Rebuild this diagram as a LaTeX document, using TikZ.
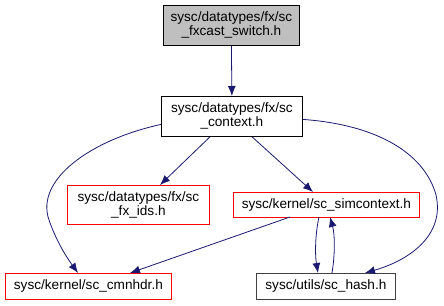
\documentclass[tikz,border=0pt]{standalone}
\usepackage{fontspec}
\setmainfont{Liberation Sans}
\usetikzlibrary{arrows.meta}
\definecolor{edgec}{HTML}{191970}
\definecolor{topfill}{HTML}{BFBFBF}
\definecolor{hashc}{HTML}{404040}
\tikzset{
  x=1pt,y=-1pt,
  box/.style={draw,line width=0.8pt,align=center,font=\fontsize{13.6}{14}\selectfont,inner sep=0pt,anchor=north west},
  redbox/.style={box,draw=red},
  edge/.style={draw=edgec,line width=0.8pt,-{Latex[length=10pt,width=8pt]}}
}
\begin{document}
\begin{tikzpicture}
\useasboundingbox (0,0) rectangle (444,305);
\node[box,fill=topfill,minimum width=136pt,minimum height=40pt,text width=136pt] (top) at (163,5) {sysc/datatypes/fx/sc\\\_fxcast\_switch.h};
\node[box,minimum width=141pt,minimum height=40pt,text width=141pt] (ctx) at (161,96) {sysc/datatypes/fx/sc\\\_context.h};
\node[redbox,minimum width=142pt,minimum height=39pt,text width=142pt] (ids) at (67,185) {sysc/datatypes/fx/sc\\\_fx\_ids.h};
\node[redbox,minimum width=186pt,minimum height=25pt,text width=186pt] (sim) at (233,192) {sysc/kernel/sc\_simcontext.h};
\node[redbox,minimum width=166pt,minimum height=26pt,text width=166pt] (cmn) at (5,273) {sysc/kernel/sc\_cmnhdr.h};
\node[box,draw=hashc,minimum width=139pt,minimum height=26pt,text width=139pt] (hash) at (256,273) {sysc/utils/sc\_hash.h};
\draw[edge] (top.south) -- (ctx.north);
\draw[edge] (ctx.south west) ++(49,0) coordinate (c1) -- (160,185);
\draw[edge] (ctx.south west) ++(91,0) coordinate (c2) -- (313,192);
\draw[edge] (ctx.west) ++(0,8) coordinate (c3) .. controls (90,140) and (35,180) .. (49,220) .. controls (56,240) and (65,255) .. (78,273);
\draw[edge] (ctx.east) ++(0,3) coordinate (c4) .. controls (380,125) and (425,155) .. (436,195) .. controls (445,235) and (410,260) .. (365,273);
\draw[edge] (290,217) -- (130,273);
\draw[edge] (319,217) .. controls (315,235) and (315,255) .. (318,273);
\draw[edge] (332,273) .. controls (335,255) and (335,235) .. (330,217);
\end{tikzpicture}
\end{document}
